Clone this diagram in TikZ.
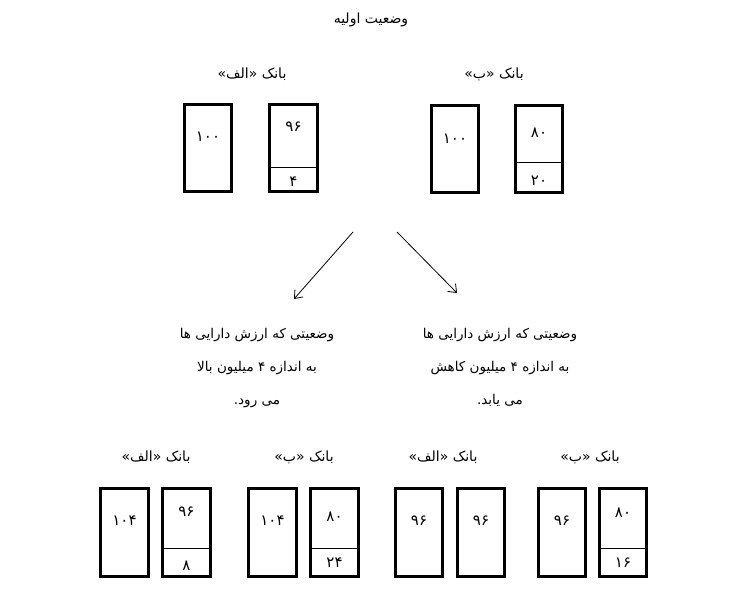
\documentclass[tikz,border=0pt]{standalone}
\usepackage{fontspec}
\newfontfamily\arabicfont[Script=Arabic]{DejaVu Sans}
\TeXXeTstate=1
\usetikzlibrary{arrows.meta}
\begin{document}
\begin{tikzpicture}[x=1pt,y=-1pt,
  box/.style={draw,line width=2.6pt,minimum width=47.5pt,minimum height=87.5pt,inner sep=0pt},
  num/.style={font=\arabicfont\fontsize{15}{17}\selectfont,inner sep=0pt},
  lbl/.style={font=\arabicfont\fontsize{14}{16}\selectfont,inner sep=0pt},
  para/.style={font=\arabicfont\fontsize{13.5}{33}\selectfont,align=center,inner sep=0pt},
  divl/.style={line width=0.9pt},
  arr/.style={line width=0.8pt,-{Straight Barb[length=7pt,width=11pt,line width=0.8pt]}}]
\useasboundingbox (0,0) rectangle (740,602);
\fill[white] (0,0) rectangle (740,602);
% title
\node[lbl] (title) at (371,20) {\beginR وضعیت اولیه\endR};
% top labels
\node[lbl] (lA) at (252,74) {\beginR بانک «الف»\endR};
\node[lbl] (lB) at (494,74) {\beginR بانک «ب»\endR};
% top boxes
\node[box] (A1) at (208,148) {};
\node[box] (A2) at (293.5,148) {};
\node[box] (B1) at (455,149) {};
\node[box] (B2) at (539,149) {};
\draw[divl] (A2.west |- 0,167) -- (A2.east |- 0,167);
\draw[divl] (B2.west |- 0,162) -- (B2.east |- 0,162);
\node[num] (nA1) at (208,137) {۱۰۰};
\node[num] (nA2a) at (293.5,127) {۹۶};
\node[num] (nA2b) at (293.5,182) {۴};
\node[num] (nB1) at (455,139) {۱۰۰};
\node[num] (nB2a) at (539,133) {۸۰};
\node[num] (nB2b) at (539,181) {۲۰};
% arrows
\coordinate (s1) at (353,232);
\coordinate (e1) at (294,299);
\coordinate (s2) at (397,232);
\coordinate (e2) at (457,293);
\draw[arr] (s1) -- (e1);
\draw[arr] (s2) -- (e2);
% paragraphs
\node[para,anchor=north] (pL) at (257,328) {\beginR وضعیتی که ارزش دارایی ها\endR\\\beginR به اندازه ۴ میلیون بالا\endR\\\beginR می رود.\endR};
\node[para,anchor=north] (pR) at (500,328) {\beginR وضعیتی که ارزش دارایی ها\endR\\\beginR به اندازه ۴ میلیون کاهش\endR\\\beginR می یابد.\endR};
% bottom labels
\node[lbl] (lC) at (156,457) {\beginR بانک «الف»\endR};
\node[lbl] (lD) at (304,457) {\beginR بانک «ب»\endR};
\node[lbl] (lE) at (443,457) {\beginR بانک «الف»\endR};
\node[lbl] (lF) at (590,457) {\beginR بانک «ب»\endR};
% bottom boxes
\node[box] (C1) at (124.5,532.5) {};
\node[box] (C2) at (186.5,532.5) {};
\node[box] (D1) at (272.5,532.5) {};
\node[box] (D2) at (334.5,532.5) {};
\node[box] (E1) at (419,532.5) {};
\node[box] (E2) at (481,532.5) {};
\node[box] (F1) at (562,532.5) {};
\node[box] (F2) at (623,532.5) {};
\draw[divl] (C2.west |- 0,548) -- (C2.east |- 0,548);
\draw[divl] (D2.west |- 0,548) -- (D2.east |- 0,548);
\draw[divl] (F2.west |- 0,548) -- (F2.east |- 0,548);
\node[num] (nC1) at (124.5,521) {۱۰۴};
\node[num] (nC2a) at (186.5,512) {۹۶};
\node[num] (nC2b) at (186.5,566) {۸};
\node[num] (nD1) at (272.5,521) {۱۰۴};
\node[num] (nD2a) at (334.5,517) {۸۰};
\node[num] (nD2b) at (334.5,563) {۲۴};
\node[num] (nE1) at (419,521) {۹۶};
\node[num] (nE2) at (481,521) {۹۶};
\node[num] (nF1) at (562,521) {۹۶};
\node[num] (nF2a) at (623,513) {۸۰};
\node[num] (nF2b) at (623,563) {۱۶};
\end{tikzpicture}
\end{document}
